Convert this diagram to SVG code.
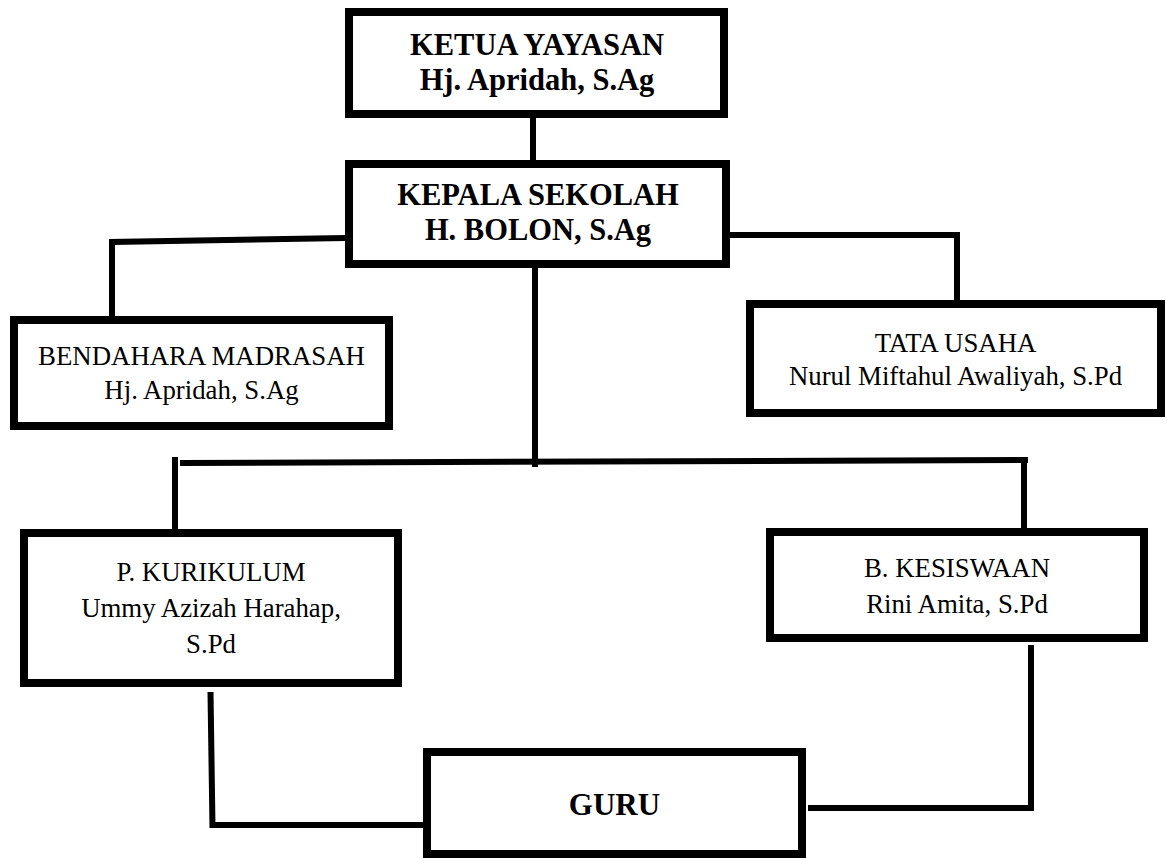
<svg xmlns="http://www.w3.org/2000/svg" width="1167" height="859" viewBox="0 0 1167 859">
<style>
.box{fill:#fff;stroke:#000;stroke-width:8}
.ln{fill:none;stroke:#000;stroke-width:6;stroke-linecap:butt;stroke-linejoin:miter}
text{font-family:"Liberation Serif","Times New Roman",serif;fill:#000;text-anchor:middle}
.b{font-weight:bold;font-size:30.5px}
.n{font-size:26.8px}
</style>
<rect width="1167" height="859" fill="#fff"/>
<g id="connectors">
<line class="ln" x1="533" y1="118" x2="533" y2="160"/>
<polyline class="ln" points="346,238 112,242 112,316"/>
<polyline class="ln" points="728,235 960,235"/>
<line class="ln" x1="957" y1="235" x2="957" y2="300"/>
<line class="ln" x1="535" y1="268" x2="535" y2="467"/>
<line class="ln" x1="180" y1="463" x2="1028" y2="460"/>
<line class="ln" x1="175" y1="457" x2="175" y2="529"/>
<line class="ln" x1="1024" y1="460" x2="1024" y2="528"/>
<line class="ln" x1="210.5" y1="692" x2="212.5" y2="828"/>
<line class="ln" x1="213" y1="825" x2="424" y2="825"/>
<polyline class="ln" points="808,808 1031,808 1031,645"/>
</g>
<g id="ketua">
<rect class="box" x="349" y="12" width="375" height="102"/>
<text class="b" x="537" y="55">KETUA YAYASAN</text>
<text class="b" x="537" y="90">Hj. Apridah, S.Ag</text>
</g>
<g id="kepala">
<rect class="box" x="349" y="164" width="377" height="100"/>
<text class="b" x="538" y="205">KEPALA SEKOLAH</text>
<text class="b" x="538" y="240">H. BOLON, S.Ag</text>
</g>
<g id="bendahara">
<rect class="box" x="14" y="320" width="375" height="106"/>
<text class="n" x="201.5" y="365">BENDAHARA MADRASAH</text>
<text class="n" x="201.5" y="399">Hj. Apridah, S.Ag</text>
</g>
<g id="tatausaha">
<rect class="box" x="750" y="304" width="411" height="109"/>
<text class="n" x="955.5" y="352">TATA USAHA</text>
<text class="n" x="955.5" y="385">Nurul Miftahul Awaliyah, S.Pd</text>
</g>
<g id="kurikulum">
<rect class="box" x="24" y="533" width="374" height="150"/>
<text class="n" x="211" y="581">P. KURIKULUM</text>
<text class="n" x="211" y="617">Ummy Azizah Harahap,</text>
<text class="n" x="211" y="653">S.Pd</text>
</g>
<g id="kesiswaan">
<rect class="box" x="770" y="532" width="374" height="106"/>
<text class="n" x="957" y="577">B. KESISWAAN</text>
<text class="n" x="957" y="613">Rini Amita, S.Pd</text>
</g>
<g id="guru">
<rect class="box" x="427" y="752" width="375" height="102"/>
<text class="b" x="614.5" y="815" style="font-size:31px">GURU</text>
</g>
</svg>
